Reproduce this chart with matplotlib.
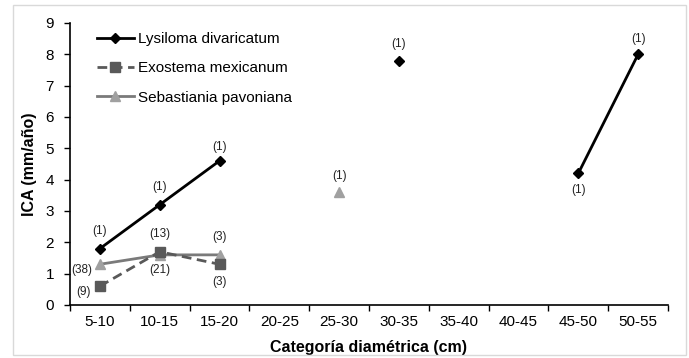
import numpy as np
import matplotlib
matplotlib.use("Agg")
import matplotlib.pyplot as plt
from matplotlib.patches import Rectangle

plt.rcParams['font.family'] = ['Liberation Sans', 'DejaVu Sans']

categories = ["5-10", "10-15", "15-20", "20-25", "25-30", "30-35", "35-40", "40-45", "45-50", "50-55"]
nan = np.nan
lysiloma = [1.8, 3.2, 4.6, nan, nan, 7.8, nan, nan, 4.2, 8.0]
exostema = [0.6, 1.7, 1.3, nan, nan, nan, nan, nan, nan, nan]
sebastiania = [1.3, 1.6, 1.6, nan, 3.6, nan, nan, nan, nan, nan]

lys_n = ["(1)", "(1)", "(1)", "", "", "(1)", "", "", "(1)", "(1)"]
exo_n = ["(9)", "(13)", "(3)", "", "", "", "", "", "", ""]
seb_n = ["(38)", "(21)", "(3)", "", "(1)", "", "", "", "", ""]

fig = plt.figure(figsize=(6.89, 3.58), dpi=100)
fig.patches.append(Rectangle((13/689, 1-355/358), (686-13)/689, (355-5)/358,
                             transform=fig.transFigure, fill=False,
                             edgecolor='#d9d9d9', linewidth=1))
ax = fig.add_axes([70/689, 1-305/358, (668-70)/689, (305-23)/358])

x = np.arange(len(categories)) + 0.5

ax.plot(x, lysiloma, color='black', lw=2, marker='D', ms=5.5, label='Lysiloma divaricatum', zorder=4)
ax.plot(x, exostema, color='#595959', lw=2, ls=(0, (3.5, 2)), marker='s', ms=7,
        markerfacecolor='#595959', markeredgecolor='#595959', label='Exostema mexicanum', zorder=3)
ax.plot(x, sebastiania, color='#7a7a7a', lw=2, marker='^', ms=7,
        markerfacecolor='#a0a0a0', markeredgecolor='#a0a0a0', label='Sebastiania pavoniana', zorder=2)

ann_kw = dict(fontsize=8.5, color='#222222', ha='center', va='center')
lys_off = {0: (0, 13), 1: (0, 13), 2: (0, 10), 5: (0, 12), 8: (0, -12), 9: (0, 11)}
for i, off in lys_off.items():
    ax.annotate(lys_n[i], (x[i], lysiloma[i]), xytext=off, textcoords='offset points', **ann_kw)
exo_off = {0: (-12, -4), 1: (0, 13), 2: (0, -13)}
for i, off in exo_off.items():
    ax.annotate(exo_n[i], (x[i], exostema[i]), xytext=off, textcoords='offset points', **ann_kw)
seb_off = {0: (-13, -4), 1: (0, -11), 2: (0, 13), 4: (0, 12)}
for i, off in seb_off.items():
    ax.annotate(seb_n[i], (x[i], sebastiania[i]), xytext=off, textcoords='offset points', **ann_kw)

ax.set_xlim(0, len(categories))
ax.set_ylim(0, 9)
ax.set_yticks(range(0, 10))
ax.set_xticks(np.arange(len(categories) + 1))
ax.set_xticklabels([])
ax.set_xticks(x, minor=True)
ax.set_xticklabels(categories, minor=True)
ax.tick_params(axis='x', which='minor', length=0, labelsize=11, pad=7)
ax.tick_params(axis='x', which='major', length=4, width=1, direction='out')
ax.tick_params(axis='y', length=4.5, width=1, direction='out', labelsize=11, pad=7)

for s in ['top', 'right']:
    ax.spines[s].set_visible(False)
for s in ['left', 'bottom']:
    ax.spines[s].set_linewidth(1.2)

ax.set_xlabel('Categoría diamétrica (cm)', fontsize=11.5, fontweight='bold', labelpad=8)
ax.set_ylabel('ICA (mm/año)', fontsize=11.5, fontweight='bold', labelpad=6)

ax.legend(loc='upper left', bbox_to_anchor=(0.03, 1.0), frameon=False, fontsize=11,
          handlelength=2.4, labelspacing=1.0, handletextpad=0.3, borderaxespad=0.2)

fig.savefig('out.png', dpi=100)
